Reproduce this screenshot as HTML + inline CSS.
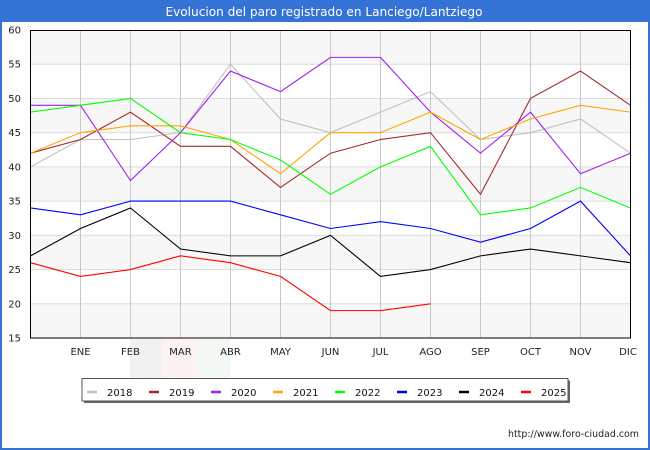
<!DOCTYPE html>
<html><head><meta charset="utf-8"><style>
html,body{margin:0;padding:0;background:#fff}
svg{display:block}
text{font-family:"DejaVu Sans","Liberation Sans",sans-serif}
</style></head><body>
<svg width="650" height="450" viewBox="0 0 650 450" xmlns="http://www.w3.org/2000/svg">
<rect x="0" y="0" width="650" height="450" fill="#fff"/>
<!-- title bar -->
<rect x="0" y="0" width="650" height="22" fill="#3572d6"/>
<text x="324" y="16" font-size="12" fill="#fff" text-anchor="middle" textLength="317" lengthAdjust="spacingAndGlyphs">Evolucion del paro registrado en Lanciego/Lantziego</text>
<!-- outer border -->
<rect x="1" y="1" width="648" height="448" fill="none" stroke="#3572d6" stroke-width="2"/>

<!-- watermark -->
<rect x="130" y="339" width="33" height="39" fill="#f1f1f1"/>
<rect x="163" y="339" width="34" height="39" fill="#fcf2f2"/>
<rect x="197" y="339" width="33" height="39" fill="#f2f8f2"/>

<!-- bands -->
<g fill="#f7f7f7">
<rect x="30" y="30" width="600" height="34.22"/>
<rect x="30" y="98.44" width="600" height="34.22"/>
<rect x="30" y="166.89" width="600" height="34.22"/>
<rect x="30" y="235.33" width="600" height="34.22"/>
<rect x="30" y="303.78" width="600" height="34.22"/>
</g>
<!-- horizontal grid -->
<g stroke="#dcdcdc" stroke-width="1">
<line x1="30" x2="630" y1="64.22" y2="64.22"/>
<line x1="30" x2="630" y1="98.44" y2="98.44"/>
<line x1="30" x2="630" y1="132.67" y2="132.67"/>
<line x1="30" x2="630" y1="166.89" y2="166.89"/>
<line x1="30" x2="630" y1="201.11" y2="201.11"/>
<line x1="30" x2="630" y1="235.33" y2="235.33"/>
<line x1="30" x2="630" y1="269.56" y2="269.56"/>
<line x1="30" x2="630" y1="303.78" y2="303.78"/>
</g>
<!-- vertical grid -->
<g stroke="#c8c8c8" stroke-width="1">
<line x1="80.5" x2="80.5" y1="30" y2="338"/>
<line x1="130.5" x2="130.5" y1="30" y2="338"/>
<line x1="180.5" x2="180.5" y1="30" y2="338"/>
<line x1="230.5" x2="230.5" y1="30" y2="338"/>
<line x1="280.5" x2="280.5" y1="30" y2="338"/>
<line x1="330.5" x2="330.5" y1="30" y2="338"/>
<line x1="380.5" x2="380.5" y1="30" y2="338"/>
<line x1="430.5" x2="430.5" y1="30" y2="338"/>
<line x1="480.5" x2="480.5" y1="30" y2="338"/>
<line x1="530.5" x2="530.5" y1="30" y2="338"/>
<line x1="580.5" x2="580.5" y1="30" y2="338"/>
</g>

<!-- series -->
<g transform="translate(30.5,338) scale(50,-6.8444)" fill="none" stroke-width="1.1" stroke-linejoin="miter">
<polyline vector-effect="non-scaling-stroke" stroke="#c0c0c0" points="0,25 1,29 2,29 3,30 4,40 5,32 6,30 7,33 8,36 9,29 10,30 11,32 12,27"/>
<polyline vector-effect="non-scaling-stroke" stroke="#a52a2a" points="0,27 1,29 2,33 3,28 4,28 5,22 6,27 7,29 8,30 9,21 10,35 11,39 12,34"/>
<polyline vector-effect="non-scaling-stroke" stroke="#a020f0" points="0,34 1,34 2,23 3,30 4,39 5,36 6,41 7,41 8,33 9,27 10,33 11,24 12,27"/>
<polyline vector-effect="non-scaling-stroke" stroke="#ffa500" points="0,27 1,30 2,31 3,31 4,29 5,24 6,30 7,30 8,33 9,29 10,32 11,34 12,33"/>
<polyline vector-effect="non-scaling-stroke" stroke="#00ff00" points="0,33 1,34 2,35 3,30 4,29 5,26 6,21 7,25 8,28 9,18 10,19 11,22 12,19"/>
<polyline vector-effect="non-scaling-stroke" stroke="#0000ff" points="0,19 1,18 2,20 3,20 4,20 5,18 6,16 7,17 8,16 9,14 10,16 11,20 12,12"/>
<polyline vector-effect="non-scaling-stroke" stroke="#000000" points="0,12 1,16 2,19 3,13 4,12 5,12 6,15 7,9 8,10 9,12 10,13 11,12 12,11"/>
<polyline vector-effect="non-scaling-stroke" stroke="#ff0000" points="0,11 1,9 2,10 3,12 4,11 5,9 6,4 7,4 8,5"/>
</g>

<!-- frame -->
<rect x="30.5" y="30.5" width="600" height="307.5" fill="none" stroke="#000" stroke-width="1"/>

<!-- y labels -->
<g font-size="10" fill="#222" text-anchor="end">
<text x="21" y="33.5">60</text>
<text x="21" y="67.7">55</text>
<text x="21" y="101.9">50</text>
<text x="21" y="136.2">45</text>
<text x="21" y="170.4">40</text>
<text x="21" y="204.6">35</text>
<text x="21" y="238.8">30</text>
<text x="21" y="273.1">25</text>
<text x="21" y="307.3">20</text>
<text x="21" y="341.5">15</text>
</g>
<!-- x labels -->
<g font-size="10" fill="#222" text-anchor="middle">
<text x="80.5" y="355">ENE</text>
<text x="130.5" y="355">FEB</text>
<text x="180.5" y="355">MAR</text>
<text x="230.5" y="355">ABR</text>
<text x="280.5" y="355">MAY</text>
<text x="330.5" y="355">JUN</text>
<text x="380.5" y="355">JUL</text>
<text x="430.5" y="355">AGO</text>
<text x="480.5" y="355">SEP</text>
<text x="530.5" y="355">OCT</text>
<text x="580.5" y="355">NOV</text>
<text x="628" y="355">DIC</text>
</g>

<!-- legend -->
<rect x="84" y="380.5" width="486" height="22.5" fill="#666"/>
<rect x="82" y="378.5" width="486" height="22.5" fill="#fff" stroke="#555" stroke-width="1"/>
<g stroke-width="2.5">
<line x1="87" x2="97" y1="392" y2="392" stroke="#c0c0c0"/>
<line x1="149" x2="159" y1="392" y2="392" stroke="#a52a2a"/>
<line x1="211" x2="221" y1="392" y2="392" stroke="#a020f0"/>
<line x1="273" x2="283" y1="392" y2="392" stroke="#ffa500"/>
<line x1="335" x2="345" y1="392" y2="392" stroke="#00ff00"/>
<line x1="397" x2="407" y1="392" y2="392" stroke="#0000ff"/>
<line x1="459" x2="469" y1="392" y2="392" stroke="#000000"/>
<line x1="521" x2="531" y1="392" y2="392" stroke="#ff0000"/>
</g>
<g font-size="10" fill="#111">
<text x="107" y="396">2018</text>
<text x="169" y="396">2019</text>
<text x="231" y="396">2020</text>
<text x="293" y="396">2021</text>
<text x="355" y="396">2022</text>
<text x="417" y="396">2023</text>
<text x="479" y="396">2024</text>
<text x="541" y="396">2025</text>
</g>

<!-- footer -->
<text x="508" y="437" font-size="9.5" fill="#222" textLength="131" lengthAdjust="spacingAndGlyphs">http://www.foro-ciudad.com</text>
</svg>
</body></html>
